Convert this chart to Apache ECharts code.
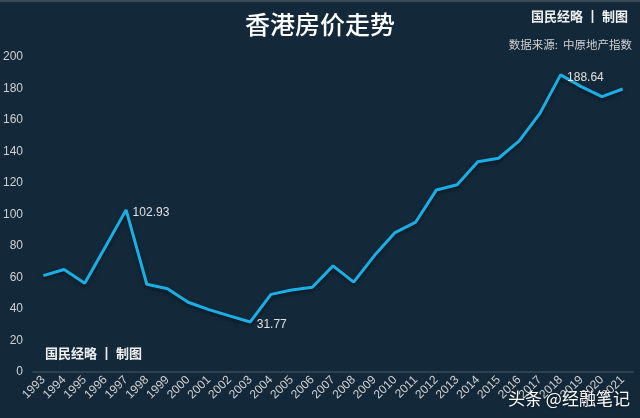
<!DOCTYPE html>
<html><head><meta charset="utf-8">
<script src="https://cdn.jsdelivr.net/npm/echarts@6/dist/echarts.min.js"></script>
<style>html,body{margin:0;padding:0;background:#13293a;}#c{width:640px;height:418px;}</style>
</head><body><div id="c"></div>
<script>
const years = ['1993','1994','1995','1996','1997','1998','1999','2000','2001','2002','2003','2004','2005','2006','2007','2008','2009','2010','2011','2012','2013','2014','2015','2016','2017','2018','2019','2020','2021'];
const prices = [61.2,65.1,56.4,79.5,102.93,55.7,52.9,44.3,39.6,35.6,31.77,49.3,52.1,53.8,67.4,57.1,73.9,88.5,95.2,115.6,118.9,133.5,135.7,146.7,164.2,188.64,181.2,174.8,179.7];
const labeledYears = ['1997','2003','2018'];
const yTicks = {min:0, max:200, interval:20};

const chart = echarts.init(document.getElementById('c'));
chart.setOption({
  backgroundColor:'#13293a',
  title:{text:'香港房价走势', left:'center', top:7,
    textStyle:{color:'#ffffff', fontSize:25, fontWeight:500, fontFamily:'Noto Sans CJK SC'}},
  graphic:[
    {type:'rect', left:0, top:0, shape:{width:640,height:2}, style:{fill:'#3a4c5a'}},
    {type:'text', right:12, top:10, style:{text:'国民经略 ┃ 制图', fill:'#f0f0f0', font:'bold 13px "Noto Sans CJK SC"'}},
    {type:'text', right:8, top:39, style:{text:'数据来源:  中原地产指数', fill:'#d0d0d0', font:'11.5px "Noto Sans CJK SC"'}},
    {type:'text', left:45, top:347, style:{text:'国民经略 ┃ 制图', fill:'#f0f0f0', font:'bold 13px "Noto Sans CJK SC"'}},
    {type:'text', left:508, top:390, style:{text:'头条 @经融笔记', fill:'#ffffff', font:'17px "Noto Sans CJK SC"', textShadowColor:'rgba(0,0,0,0.6)', textShadowBlur:3}}
  ],
  grid:{left:33, right:7, top:57, bottom:46},
  xAxis:{type:'category', data:years, boundaryGap:true,
    axisLine:{lineStyle:{color:'#2b4252', width:2}},
    axisTick:{show:false},
    axisLabel:{rotate:45, color:'#d0d0d0', fontSize:12, interval:0, margin:6, fontFamily:'Liberation Sans'}},
  yAxis:{type:'value', min:yTicks.min, max:yTicks.max, interval:yTicks.interval,
    splitLine:{show:false}, axisLine:{show:false}, axisTick:{show:false},
    axisLabel:{color:'#d0d0d0', fontSize:12, margin:10, fontFamily:'Liberation Sans'}},
  series:[{type:'line', data:prices.map((v,i)=>({value:v, label:{show:labeledYears.includes(years[i])}})),
    symbol:'circle', symbolSize:1, showSymbol:true, itemStyle:{color:'rgba(0,0,0,0)', borderWidth:0}, smooth:false,
    lineStyle:{color:'#1aaee6', width:3, shadowColor:'rgba(0,0,0,0.5)', shadowBlur:4, shadowOffsetY:2},
    label:{show:false, position:'right', color:'#e0e0e0', fontSize:12, offset:[1,3], fontFamily:'Liberation Sans'},
    animation:false}]
});
</script></body></html>
